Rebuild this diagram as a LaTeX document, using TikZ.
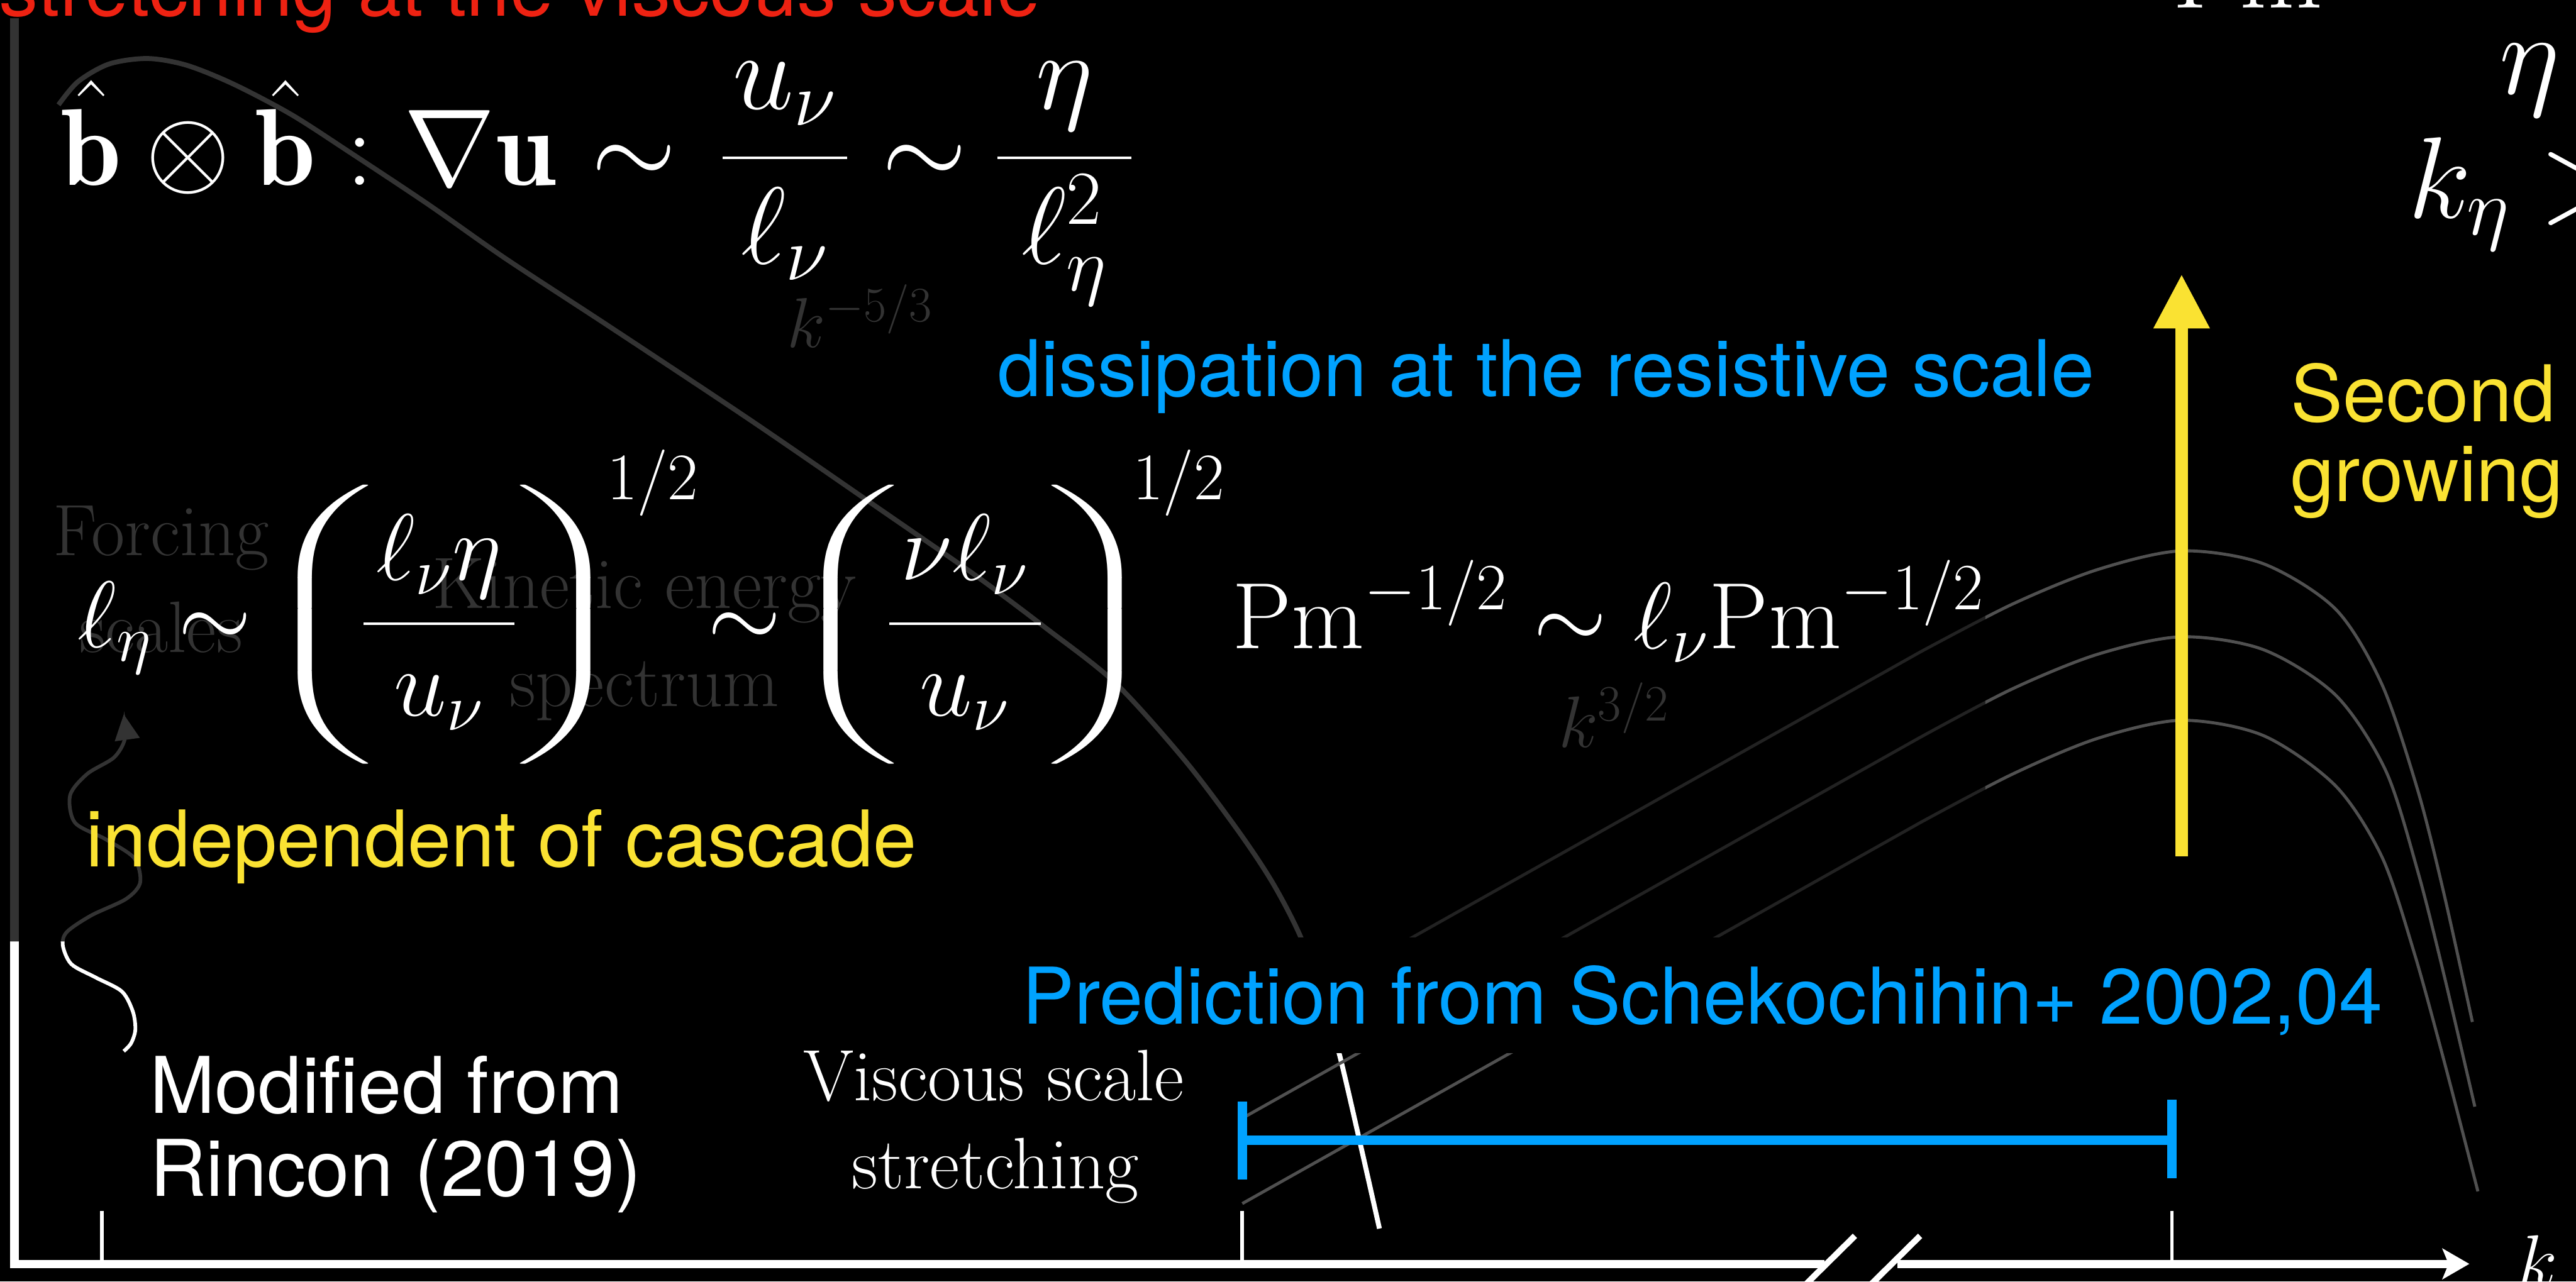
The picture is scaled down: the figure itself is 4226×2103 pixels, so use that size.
\RequirePackage{fix-cm}
\documentclass[tikz,border=0pt]{standalone}
\usepackage{fontspec}
\usepackage{amsmath}
\usepackage{graphicx}
\usetikzlibrary{arrows.meta}
\newfontfamily\hel{TeX Gyre Heros}
\definecolor{kblue}{RGB}{0,162,255}
\definecolor{kyel}{RGB}{250,226,50}
\definecolor{kred}{RGB}{238,34,18}
\definecolor{dimg}{RGB}{51,51,51}
\definecolor{magg}{RGB}{80,80,80}
\definecolor{magd}{RGB}{34,34,34}
% fraction with fixed bar width and extra vertical room
\newcommand\wfrac[3]{\frac{\hbox to #1{\hss$#2$\vrule height 0pt depth 0.38em width 0pt\hss}}{\hbox to #1{\hss$#3$\vrule height 0.9em depth 0pt width 0pt\hss}}}
% wide big parentheses
\newcommand\wlpar{\scalebox{2.4}[0.97]{$\Biggl($}}
\newcommand\wrpar{\scalebox{2.4}[0.97]{$\Biggr)$}}
% all lines of the (dimmed or bright) background figure
\newcommand\figlines[2]{%
  \draw[#1, line width=0.14cm] (24,30) -- (24,2074);
  \draw[#1, line width=0.08cm] plot[smooth] coordinates {(96,172) (128,134) (179,105) (242,96) (306,107) (383,138) (478,188) (574,250) (702,335) (829,424) (1000,536) (1232,690) (1450,840) (1600,944) (1715,1030) (1830,1121) (1944,1248) (2031,1363) (2088,1449) (2134,1538) (2170,1640) (2197,1729) (2230,1870) (2263,2016)};
  \draw[#1, line width=0.06cm, -{Triangle[width=0.4cm,length=0.42cm]}] plot[smooth] coordinates {(203,1725) (215,1712) (222,1690) (218,1660) (200,1627) (157,1604) (117,1582) (103,1551) (110,1529) (150,1502) (207,1475) (230,1448) (220,1408) (173,1377) (123,1350) (115,1305) (143,1270) (187,1243) (205,1212) (203,1172)};
  \draw[#2, line width=0.05cm] (2038,1695) -- plot[smooth] coordinates {(3150,1070) (3300,992) (3440,935) (3578,904) (3713,925) (3832,1000) (3908,1124) (3967,1299) (4009,1465) (4056,1677)};
  \draw[#2, line width=0.05cm] (2038,1835) -- plot[smooth] coordinates {(3150,1210) (3300,1131) (3440,1074) (3578,1045) (3713,1066) (3832,1141) (3914,1265) (3967,1432) (4009,1598) (4060,1816)};
  \draw[#2, line width=0.05cm] (2038,1975) -- plot[smooth] coordinates {(3150,1350) (3300,1271) (3440,1212) (3578,1182) (3713,1207) (3832,1290) (3908,1407) (3961,1565) (4009,1739) (4065,1955)};
}
\begin{document}
\begin{tikzpicture}[x=0.01cm,y=-0.01cm,
  sanstxt/.style={font=\hel\fontsize{36.5}{44}\selectfont, inner sep=0pt, anchor=base west},
  cmtxt/.style={font=\fontsize{34}{40}\selectfont, inner sep=0pt, anchor=base},
  mth/.style={inner sep=0pt, anchor=base west, text=white},
  mthc/.style={inner sep=0pt, anchor=base, text=white},
  rowone/.style={font=\fontsize{51}{60}\selectfont},
  rowtwo/.style={font=\fontsize{44}{62}\selectfont},
  lpar/.style={inner sep=0pt, anchor=base east, text=white, rowtwo},
  rpar/.style={inner sep=0pt, anchor=base west, text=white, rowtwo},
  halfsup/.style={mth, font=\fontsize{31}{36}\selectfont},
  axisline/.style={white, line width=0.13cm},
  tickline/.style={white, line width=0.06cm},
  barline/.style={kblue, line width=0.15cm}]
\useasboundingbox (0,0) rectangle (4226,2103);
\fill[black] (0,0) rectangle (4226,2103);
\clip (0,0) rectangle (4226,2103);

% background figure: dimmed part and bright part
\begin{scope}
  \clip (0,0) rectangle (3257,1545);
  \figlines{dimg}{magd}
\end{scope}
\begin{scope}
  \clip (3257,0) rectangle (4226,2103) (0,1545) rectangle (4226,2103);
  \figlines{white}{magg}
\end{scope}

% dimmed labels of the background figure
\node[cmtxt, text=dimg] (forc1) at (264,912) {Forcing};
\node[cmtxt, text=dimg] (forc2) at (264,1070) {scales};
\node[cmtxt, text=dimg] (kin1) at (1057,998) {Kinetic energy};
\node[cmtxt, text=dimg] (kin2) at (1057,1159) {spectrum};
\node[mth, text=dimg, font=\fontsize{33}{40}\selectfont] (k53) at (1290,570) {$k^{-5/3}$};
\node[mth, text=dimg, font=\fontsize{34}{40}\selectfont] (k32) at (2556,1226) {$k^{3/2}$};

% black text box behind the prediction label
\fill[black] (1640,1538) rectangle (3940,1728);

% axes
\coordinate (o) at (17,2074);
\coordinate (b1) at (2993,2074);
\coordinate (b2) at (3113,2074);
\coordinate (xend) at (4051,2074);
\draw[axisline] (o) -- (b1);
\draw[axisline, -{Stealth[length=0.44cm,width=0.5cm,inset=0.1cm]}] (b2) -- (xend);
\draw[white, line width=0.1cm] (2960,2110) -- (3043,2028);
\draw[white, line width=0.1cm] (3067,2110) -- (3150,2028);
\draw[tickline] (167,1987) -- (167,2074);
\draw[tickline] (2038,1987) -- (2038,2074);
\draw[tickline] (3563,1987) -- (3563,2074);
\node[mth, font=\fontsize{34}{40}\selectfont] (klab) at (4130,2110) {$k$};

% viscous scale label
\node[cmtxt, text=white] (visc1) at (1630,1806) {Viscous scale};
\node[cmtxt, text=white] (visc2) at (1633,1950) {stretching};

% blue range bar
\coordinate (bl) at (2038,1871);
\coordinate (br) at (3563,1871);
\coordinate (blt) at (2038,1808);
\coordinate (blb) at (2038,1936);
\coordinate (brt) at (3563,1805);
\coordinate (brb) at (3563,1933);
\draw[barline] (bl) -- (br);
\draw[barline] (blt) -- (blb);
\draw[barline] (brt) -- (brb);

% yellow arrow
\coordinate (ya0) at (3579,1405);
\coordinate (ya1) at (3579,450);
\draw[kyel, line width=0.2cm, -{Triangle[width=0.87cm,length=0.89cm]}] (ya0) -- (ya1);

% sans-serif annotations
\node[sanstxt, text=kred] (red) at (-2,26) {stretching at the viscous scale};
\node[sanstxt, text=kblue] (diss) at (1636,650) {dissipation at the resistive scale};
\node[sanstxt, text=kyel] (sec) at (3757,692) {Second};
\node[sanstxt, text=kyel] (grow) at (3757,823) {growing};
\node[sanstxt, text=kyel] (indep) at (140,1422) {independent of cascade};
\node[sanstxt, text=kblue] (pred) at (1676,1680) {Prediction from Schekochihin+ 2002,04};
\node[sanstxt, text=white] (mod1) at (245,1827) {Modified from};
\node[sanstxt, text=white] (mod2) at (245,1963) {Rincon (2019)};

% first equation
\node[mth, rowone] (eqA) at (99,304) {$\hat{\mathbf b}\otimes\hat{\mathbf b}:\nabla\mathbf u$};
\node[mthc, rowone] (simA) at (1040,304) {$\sim$};
\node[mthc, rowone] (fracA) at (1288,304) {$\displaystyle\wfrac{2.04cm}{u_\nu}{\ell_\nu}$};
\node[mthc, rowone] (simB) at (1517,304) {$\sim$};
\node[mthc, rowone] (fracB) at (1746,304) {$\displaystyle\wfrac{2.2cm}{\eta}{\ell_\eta^2}$};

% second equation
\node[mth, rowtwo] (leta) at (127,1062) {$\ell_\eta\sim$};
\node[lpar] (parAl) at (612,1062) {\wlpar};
\node[mthc, rowtwo] (fracC) at (720,1062) {$\displaystyle\wfrac{2.47cm}{\ell_\nu\eta}{u_\nu}$};
\node[rpar] (parAr) at (846,1062) {\wrpar};
\node[halfsup] (supA) at (995,820) {$1/2$};
\node[mthc, rowtwo] (simC) at (1221,1062) {$\sim$};
\node[lpar] (parBl) at (1475,1062) {\wlpar};
\node[mthc, rowtwo] (fracD) at (1583,1062) {$\displaystyle\wfrac{2.48cm}{\nu\ell_\nu}{u_\nu}$};
\node[rpar] (parBr) at (1718,1062) {\wrpar};
\node[halfsup] (supB) at (1858,820) {$1/2$};
\node[mth, font=\fontsize{44}{52}\selectfont] (eqC) at (2021,1064)
  {$\mathrm{Pm}^{-1/2}\sim\ell_\nu\mathrm{Pm}^{-1/2}$};

% right-hand, cut-off formulas
\node[mth, font=\fontsize{50}{60}\selectfont] (pm) at (3563,13) {$\mathrm{Pm}$};
\node[mth, font=\fontsize{54}{64}\selectfont] (eta) at (4100,154) {$\eta$};
\node[mth, font=\fontsize{54}{64}\selectfont] (keta) at (3950,357) {$k_\eta\gg$};
\end{tikzpicture}
\end{document}
